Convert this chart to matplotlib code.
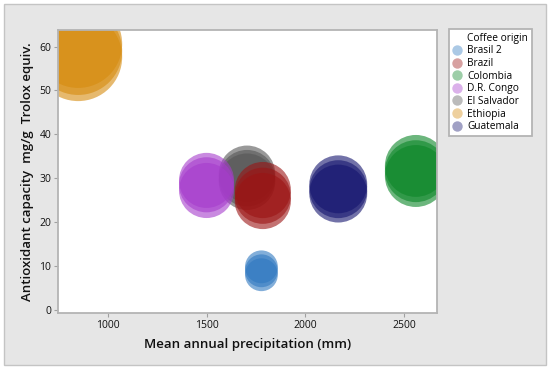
import matplotlib
matplotlib.use("Agg")
import matplotlib.pyplot as plt
from matplotlib.patches import Rectangle
from matplotlib.lines import Line2D

plt.rcParams['font.family'] = ['Open Sans', 'DejaVu Sans']

# coffee origins, three replicate bubbles each
origins = ['Brasil 2', 'Brazil', 'Colombia', 'D.R. Congo',
           'El Salvador', 'Ethiopia', 'Guatemala']
precip = [1778, 1785, 2560, 1500, 1705, 850, 2167]
antiox = [
    [9.8, 8.9, 8.0],      # Brasil 2
    [27.3, 26.0, 24.8],   # Brazil
    [32.8, 31.6, 30.5],   # Colombia
    [29.5, 28.5, 27.2],   # D.R. Congo
    [31.0, 30.0, 29.2],   # El Salvador
    [60.6, 59.0, 57.6],   # Ethiopia
    [28.6, 27.5, 26.5],   # Guatemala
]
bubble = [2.7, 7.9, 9.6, 7.6, 8.0, 19.4, 8.4]
colors = ['#2f78c0', '#9b1414', '#0b8627', '#a63ccc',
          '#555555', '#d68b0e', '#14146e']

fig = plt.figure(figsize=(5.5, 3.69), dpi=100)
fig.patch.set_facecolor('white')
fig.patches.append(Rectangle((0.007, 0.011), 0.986, 0.978, transform=fig.transFigure,
                             facecolor='#e6e6e6', edgecolor='#c4c4c4', lw=1.0,
                             zorder=-10))

ax = fig.add_axes([0.1055, 0.152, 0.689, 0.767])
ax.set_zorder(1)
# grey first so that purple and red sit on top of it
for i in [4, 3, 1, 0, 2, 5, 6]:
    for y in antiox[i]:
        ax.scatter(precip[i], y, s=bubble[i] * 207, color=colors[i],
                   alpha=0.6, edgecolors='none')

ax.set_xlim(748, 2667)
ax.set_ylim(-0.7, 63.8)
ax.set_xticks([1000, 1500, 2000, 2500])
ax.set_yticks([0, 10, 20, 30, 40, 50, 60])
ax.tick_params(labelsize=7.5, length=3, color='#a0a0a0', labelcolor='#111111', pad=2)
for sp in ax.spines.values():
    sp.set_color('#b4b4b4')
    sp.set_linewidth(1.3)

ax.set_xlabel('Mean annual precipitation (mm)', fontsize=9.5, fontweight='semibold',
              color='#111111', labelpad=5)
ax.set_ylabel('Antioxidant capacity  mg/g  Trolox equiv.', fontsize=9.5,
              fontweight='semibold', color='#111111', labelpad=4)

handles = [Line2D([], [], linestyle='none', label='Coffee origin')]
for i in range(len(origins)):
    handles.append(Line2D([], [], marker='o', linestyle='none', markersize=7.5,
                          markerfacecolor=colors[i], markeredgecolor='none',
                          alpha=0.4, label=origins[i]))
leg = fig.legend(handles=handles, loc='upper left', bbox_to_anchor=(0.816, 0.922),
                 fontsize=7.3, frameon=True, fancybox=False, framealpha=1,
                 handlelength=0.8, handletextpad=0.6, labelspacing=0.16,
                 borderpad=0.4, borderaxespad=0)
leg.get_frame().set_edgecolor('#b4b4b4')
leg.get_frame().set_linewidth(1.3)
leg.set_zorder(2)

fig.savefig('out.png', dpi=100)
